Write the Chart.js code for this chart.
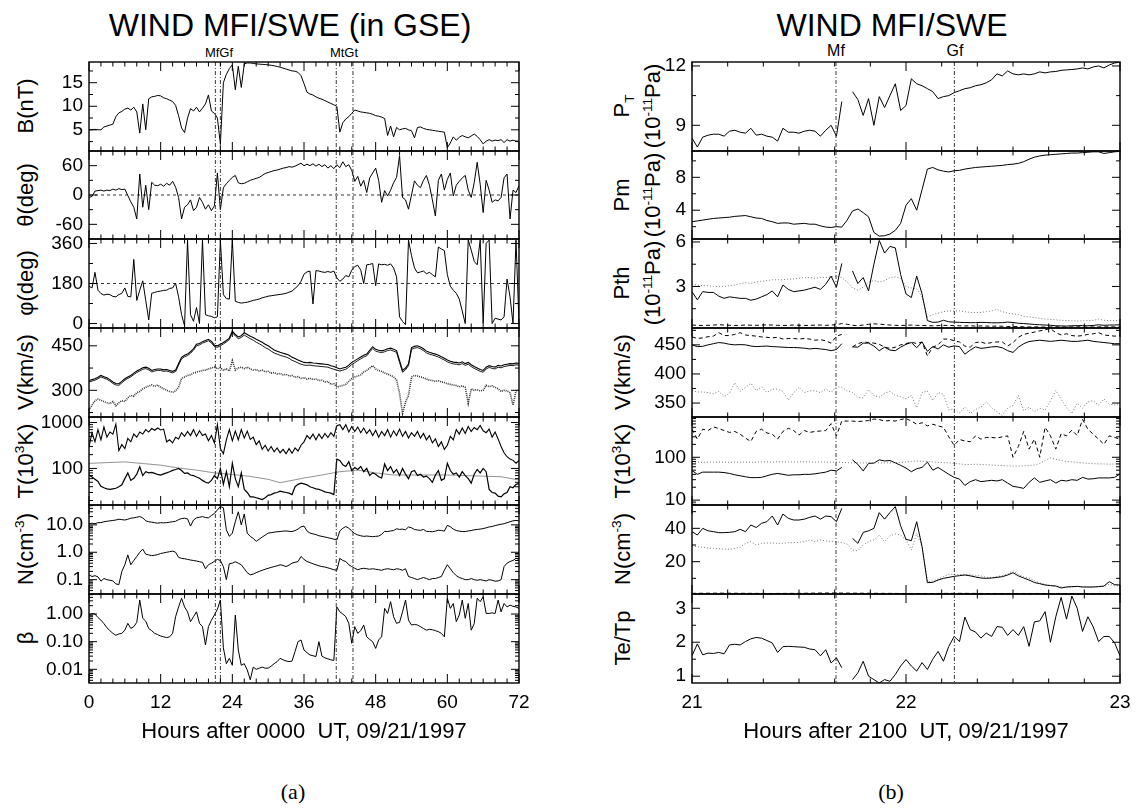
<!DOCTYPE html>
<html><head><meta charset="utf-8">
<script src="https://cdn.jsdelivr.net/npm/chart.js@4.4.1/dist/chart.umd.min.js"></script>
<style>
html,body{margin:0;padding:0;background:#fff;}
body{width:1136px;height:808px;overflow:hidden;position:relative;font-family:'Liberation Sans',Arial,Helvetica,sans-serif;color:#000;}
.t{position:absolute;transform:translate(-50%,-50%);white-space:nowrap;line-height:1;}
.yl{position:absolute;transform:translate(-50%,-50%) rotate(-90deg);white-space:nowrap;text-align:center;font-size:22px;line-height:31px;}
.yl sub,.yl sup{font-size:62%;line-height:0;}
canvas{position:absolute;}
</style></head><body>
<div class="t" style="left:290px;top:25px;font-size:32px;">WIND MFI/SWE (in GSE)</div>
<div class="t" style="left:892px;top:25px;font-size:32px;">WIND MFI/SWE</div>
<div class="t" style="left:219px;top:52px;font-size:13px;">MfGf</div>
<div class="t" style="left:344px;top:52px;font-size:13px;">MtGt</div>
<div class="t" style="left:836px;top:51px;font-size:16px;">Mf</div>
<div class="t" style="left:955px;top:51px;font-size:16px;">Gf</div>
<div class="t" style="left:293px;top:792px;font-size:22px;font-family:'Liberation Serif','DejaVu Serif',serif;">(a)</div>
<div class="t" style="left:891px;top:792px;font-size:22px;font-family:'Liberation Serif','DejaVu Serif',serif;">(b)</div>

<div class="yl" style="left:25px;top:106px;">B(nT)</div>
<div class="yl" style="left:25px;top:195px;">θ(deg)</div>
<div class="yl" style="left:25px;top:283px;">φ(deg)</div>
<div class="yl" style="left:25px;top:372px;">V(km/s)</div>
<div class="yl" style="left:25px;top:461px;">T(10<sup>3</sup>K)</div>
<div class="yl" style="left:25px;top:549px;">N(cm<sup>-3</sup>)</div>
<div class="yl" style="left:25px;top:638px;">β</div>

<div class="yl" style="left:637px;top:106px;">P<sub>T</sub><br>(10<sup>-11</sup>Pa)</div>
<div class="yl" style="left:637px;top:195px;">Pm<br>(10<sup>-11</sup>Pa)</div>
<div class="yl" style="left:637px;top:283px;">Pth<br>(10<sup>-11</sup>Pa)</div>
<div class="yl" style="left:622px;top:372px;">V(km/s)</div>
<div class="yl" style="left:622px;top:461px;">T(10<sup>3</sup>K)</div>
<div class="yl" style="left:622px;top:549px;">N(cm<sup>-3</sup>)</div>
<div class="yl" style="left:622px;top:638px;">Te/Tp</div>

<script>
// ---------------- sampling grids ----------------
const LEFT_T0 = 0, LEFT_DT = 0.5;      // hours, 145 samples
const RIGHT_T0 = 21, RIGHT_DT = 0.025; // hours, 81 samples

// ---------------- axis ticks ----------------
const LEFT_X_MAJOR = [0, 12, 24, 36, 48, 60, 72];
const LEFT_X_LABELS = ['0', '12', '24', '36', '48', '60', '72'];
const LEFT_X_MINOR = [2,4,6,8,10,14,16,18,20,22,26,28,30,32,34,38,40,42,44,46,50,52,54,56,58,62,64,66,68,70];
const RIGHT_X_MAJOR = [21, 22, 23];
const RIGHT_X_LABELS = ['21', '22', '23'];
const RIGHT_X_MINOR = [21.1667,21.3333,21.5,21.6667,21.8333,22.1667,22.3333,22.5,22.6667,22.8333];
const LEFT_EVENTS = [21.16, 22.0, 41.4, 44.2];
const RIGHT_EVENTS = [21.673, 22.226];

// ---------------- left column data (0.5 h samples) ----------------
const B_nT = [5.0,5.0,5.1,5.0,5.0,5.6,5.8,6.0,6.2,7.8, 8.6,8.9,9.4,9.6,9.2,9.8,8.8,4.3,10.5,5.0,
 11.6,12.0,12.1,12.3,12.2,11.8,11.6,11.3,11.0,10.2, 8.0,5.4,4.4,7.5,9.5,9.0,9.8,8.8,9.6,10.5,
 12.4,9.0,8.5,7.5,2.0,15.0,16.8,18.0,18.8,13.5, 18.5,14.0,19.0,19.2,19.2,19.1,19.0,18.95,18.9,18.85,
 18.8,18.7,18.6,18.45,18.3,18.1,17.9,17.7,17.5,17.45, 17.2,16.5,14.8,13.0,12.6,12.4,12.0,11.7,11.5,11.2,
 10.9,10.6,10.3,10.0,4.5,6.5,7.3,7.8,8.5,9.2, 9.0,8.8,8.7,8.6,8.5,8.3,8.0,7.9,7.7,7.4,
 3.8,5.8,3.5,5.5,5.0,5.2,5.3,5.0,4.8,3.3, 5.5,5.6,5.3,5.1,5.0,4.9,4.8,4.7,4.6,4.5,
 1.2,2.2,3.5,2.8,3.4,3.8,3.5,3.3,3.7,4.1, 3.6,2.9,2.0,2.6,2.9,2.6,2.8,2.7,2.9,2.3,
 2.9,2.6,2.8,2.6,2.6];
const THETA_deg = [-5,-3,8,9,10,8,10,9,12,10, 13,11,12,-1,-14,-25,-49,43,-25,20,
 -30,26,20,19,22,18,24,20,28,16, -5,-49,-25,-20,-10,-32,-25,-5,-15,-29,
 -20,-32,-22,45,-30,15,23,30,36,40, 25,23,24,27,30,32,34,36,40,44,
 46,48,50,51,53,55,56,58,57,59, 62,65,60,63,60,64,59,63,58,62,
 55,60,54,62,56,68,58,62,50,28, 38,18,30,5,35,45,55,30,-15,9,
 -2,10,25,36,80,-5,-10,-29,0,29, 20,15,30,40,20,-10,-43,30,43,10,
 32,45,-2,20,28,35,40,10,-5,25, 67,22,-36,30,10,-15,-10,-12,-5,35,
 43,-49,10,5,19];
const PHI_deg = [168,160,230,150,135,128,132,130,122,120, 130,136,160,122,120,288,104,150,192,104,
 16,136,140,144,146,149,150,158,160,181, 120,40,-10,375,40,10,72,0,375,40,
 35,32,26,30,375,130,112,110,375,100, 95,92,94,96,100,104,107,110,116,119,
 123,125,127,129,131,133,136,141,146,158, 170,190,222,232,236,88,238,236,232,230,
 234,230,236,205,190,200,216,210,240,256, 262,240,180,264,266,270,170,268,264,266,
 262,268,250,210,30,10,-5,375,305,250, 228,232,236,224,230,220,210,344,335,328,
 220,168,150,136,110,56,0,375,330,280, 264,375,0,360,375,0,24,20,16,30,
 200,120,0,375,0];
const V_a = [333,336,339,344,350,346,342,336,328,323, 322,330,339,345,350,358,365,370,376,378,
 374,367,370,372,372,369,370,367,364,368, 390,411,418,422,430,440,455,458,464,468,
 472,465,452,450,455,461,468,476,500,488, 480,484,494,488,482,478,472,467,462,455,
 450,443,436,432,428,425,422,418,411,407, 402,398,394,393,394,392,391,390,389,388,
 387,383,380,376,372,375,378,385,394,400, 406,412,418,422,435,447,438,435,433,436,
 440,442,438,434,400,367,375,389,444,448, 450,446,440,432,428,425,422,418,413,408,
 402,398,395,394,392,396,390,394,386,380, 375,370,367,378,383,380,378,384,382,386,
 388,390,389,392,391];
const V_b = [328,331,334,339,345,341,337,331,323,318, 317,325,334,340,345,353,360,365,371,373,
 369,362,365,367,367,364,365,362,359,363, 385,406,413,417,425,435,450,453,459,463,
 467,460,447,445,450,456,463,471,495,483, 474,478,486,480,474,469,462,457,451,444,
 439,432,426,422,418,415,412,408,401,397, 392,388,385,384,385,383,382,381,380,379,
 378,374,371,368,365,368,371,378,387,393, 400,406,412,416,429,441,432,429,427,430,
 434,436,432,428,394,361,369,383,438,442, 444,440,434,426,422,419,416,412,407,402,
 396,392,389,388,386,390,384,388,380,374, 369,364,361,372,377,374,372,378,376,380,
 382,384,383,386,385];
const V_c = [233,250,265,270,266,262,258,255,262,248, 258,265,262,275,283,280,292,296,305,310,
 314,318,313,318,310,305,300,296,293,298, 310,340,345,350,352,358,361,364,367,368,
 372,375,378,372,376,368,372,365,400,368, 375,378,373,378,372,368,370,365,368,362,
 364,358,360,355,357,352,354,348,350,344, 346,340,343,338,341,336,338,333,334,328,
 330,320,322,310,314,316,320,330,340,345, 348,352,362,367,375,383,372,366,364,358,
 355,350,345,335,290,222,260,283,345,350, 348,345,342,338,334,333,330,332,328,326,
 322,320,318,316,312,315,310,256,305,300, 302,298,300,317,312,315,310,305,296,300,
 298,292,250,298,300];
const T_hi = [290,600,380,700,420,800,480,620,560,920, 245,330,270,450,380,560,480,620,560,700,
 620,740,680,760,690,720,380,420,360,480, 440,600,500,640,520,700,500,660,520,560,
 400,520,360,900,270,210,420,700,400,650, 420,700,460,650,430,480,330,400,260,320,
 240,300,230,280,220,260,210,270,215,280, 240,320,380,520,440,560,420,560,450,580,
 470,600,500,850,900,700,900,620,820,640, 800,600,760,580,700,520,680,480,640,520,
 700,480,660,520,720,500,640,460,600,500, 640,460,580,420,520,360,440,300,380,260,
 320,500,420,700,560,760,580,820,640,780, 700,860,660,600,720,480,620,440,300,220,
 180,160,150,130,150];
const T_lo = [72,65,58,52,41,38,36,35,36,37, 40,44,60,80,55,61,75,109,70,85,
 80,82,78,74,72,76,80,85,91,95, 100,90,78,80,72,70,65,61,55,50,
 48,55,70,60,100,45,85,40,130,60, 40,80,35,30,24,24,23,22,21,23,
 26,27,29,30,32,31,30,29,27,40, 45,48,46,44,40,38,36,35,33,31,
 30,29,27,160,150,120,110,140,90,105, 95,110,85,100,70,80,75,66,62,125,
 90,110,80,95,70,100,75,60,85,90, 70,75,65,68,60,50,72,90,55,60,
 130,90,75,80,65,85,70,60,48,75, 95,80,100,85,35,30,29,25,24,28,
 30,40,38,45,47];
const T_SMOOTH_H = [0,3,6,9,12,15,18,21,24,27,30,32,34,36,39,42,45,48,51,54,57,60,63,66,69,72];
const T_SMOOTH_V = [129,134,139,128,118,102,92,80,74,67,58,49,55,62,72,85,92,80,72,72,72,72,70,68,66,56];
const N_hi = [11,11.5,11,12,12,13,13.5,14,14.5,15, 16,15.5,15,16,17.5,18,19,20,18,14,
 13,12.5,12,11.5,12,11.8,12,12.5,13,13.5, 15.5,17,17.5,16.5,9,15,18,19,20,18.5,
 18,22,26,35,47,42,6.6,3.8,5,13, 30,10,25,5,3.8,3.2,2.5,3,3.6,4.2,
 5,5.2,5.4,5.6,5.7,5.9,6.0,5.8,5.7,6.2, 7,8.5,9,6,5,4.7,4.4,4.0,3.8,3.6,
 3.4,3.2,3.0,2.8,6,7.5,8.7,7.5,6,4.8, 4.3,4.0,3.8,3.9,3.8,3.7,3.8,3.9,4.5,5.8,
 5.7,6.0,6.2,7.2,6.8,7.0,6.6,8.4,7.8,6.8, 6.5,6.3,6.8,5.8,5.7,5.6,5.9,6.4,6.2,5.9,
 9.6,8.5,7,6.2,5.9,5.7,5.7,6.0,6.2,6.6, 6.8,7.0,7.3,7.8,8.4,8.7,9.4,10,10.5,11,
 12,13,14,14.5,14];
const N_lo = [0.15,0.13,0.14,0.126,0.088,0.11,0.1,0.095,0.09,0.07, 0.066,0.2,0.35,0.8,0.35,0.5,0.7,1.0,1.3,0.85,
 0.8,0.75,0.78,0.82,0.9,0.95,1.0,1.05,1.1,1.0, 0.65,0.6,0.58,0.55,0.52,0.5,0.48,0.45,0.43,0.25,
 0.35,0.4,0.47,0.55,0.5,0.3,0.1,0.38,0.4,0.45, 0.4,0.35,0.25,0.18,0.15,0.16,0.18,0.2,0.22,0.24,
 0.26,0.28,0.3,0.32,0.35,0.33,0.3,0.34,0.4,0.43, 0.46,0.7,0.55,0.46,0.42,0.38,0.35,0.32,0.3,0.29,
 0.27,0.25,0.23,0.22,0.6,0.5,0.46,0.35,0.3,0.26, 0.23,0.25,0.26,0.25,0.24,0.25,0.24,0.23,0.22,0.24,
 0.25,0.24,0.23,0.25,0.24,0.22,0.25,0.13,0.12,0.11, 0.1,0.11,0.12,0.11,0.1,0.11,0.11,0.12,0.13,0.22,
 0.35,0.25,0.18,0.14,0.12,0.11,0.1,0.1,0.11,0.1, 0.095,0.1,0.095,0.09,0.1,0.095,0.088,0.09,0.1,0.3,
 0.4,0.46,0.5,0.6,0.55];
const BETA = [0.92,1.05,1.0,0.75,0.6,0.45,0.32,0.25,0.2,0.17, 0.19,0.2,0.26,0.46,0.3,0.35,0.5,3.2,0.7,0.55,
 0.3,0.25,0.2,0.18,0.16,0.15,0.14,0.15,0.2,0.8, 1.8,3.7,1.8,1.2,0.53,0.8,1.2,0.46,0.35,0.076,
 0.35,0.6,0.92,1.5,3.2,0.06,0.016,0.025,0.014,0.92, 0.05,0.014,0.016,0.0095,0.0042,0.012,0.01,0.011,0.012,0.011,
 0.011,0.013,0.016,0.019,0.025,0.022,0.02,0.019,0.02,0.044, 0.1,0.115,0.05,0.04,0.033,0.031,0.029,0.1,0.03,0.026,
 0.024,0.022,0.021,1.8,1.2,1.0,0.8,0.46,0.087,0.35, 0.2,0.25,0.4,0.15,0.12,0.1,0.057,0.115,0.15,1.6,
 1.05,2.8,0.8,0.46,0.5,1.2,3.2,0.6,0.4,0.42, 0.4,0.35,0.3,0.26,0.28,0.27,0.25,0.23,0.2,0.15,
 3.7,1.6,2.4,0.53,0.92,3.2,0.7,2.4,0.26,0.45, 3.7,2.8,4.2,1.05,1.05,1.1,1.05,3.2,1.2,2.4,
 1.8,2.1,1.9,1.8,1.6];

// ---------------- right column data (1.5 min samples) ----------------
const PT = [8.35,7.9,8.4,8.5,8.55,8.55,8.45,8.7,8.75,8.65, 8.6,8.85,8.5,8.55,8.45,8.4,8.2,8.85,8.65,8.65,
 8.6,8.7,8.75,8.7,8.45,8.75,9.0,8.45,10.2,null, 10.7,10.3,9.5,10.35,9.0,10.45,9.9,10.5,11.1,9.75,
 10.0,11.35,11.1,11.0,10.85,10.7,10.35,10.45,10.5,10.65, 10.75,10.85,10.9,11.0,11.05,11.15,11.3,11.6,11.5,11.75,
 11.6,11.55,11.6,11.55,11.6,11.7,11.65,11.7,11.72,11.78, 11.8,11.82,11.85,11.9,11.85,11.95,12.0,11.9,12.05,12.15,
 12.2];
const PM = [2.6,2.7,2.8,2.9,3.0,3.05,3.1,3.15,3.25,3.3, 3.35,3.2,3.05,3.0,2.75,2.6,2.4,2.45,2.45,2.3,
 2.35,2.4,2.3,2.3,2.1,1.95,1.9,2.0,1.95,2.8, 3.9,4.15,3.7,3.2,1.3,0.85,0.9,1.1,1.55,2.4,
 4.6,5.4,4.0,6.5,9.0,9.2,8.9,8.75,8.65,8.8, 8.85,9.0,9.1,9.2,9.25,9.3,9.35,9.4,9.45,9.55,
 9.6,9.7,9.9,10.2,10.45,10.6,10.7,10.75,10.8,10.85, 10.9,10.95,10.95,11.0,11.05,11.1,11.1,10.9,11.0,11.1,
 11.15];
const PTH_a = [2.65,2.1,2.65,2.6,2.6,2.35,2.2,2.3,2.25,2.2, 2.2,2.07,2.15,2.3,2.45,2.7,2.3,3.1,2.8,2.65,
 2.7,2.75,2.85,2.95,2.8,3.15,3.7,2.95,4.55,null, 4.05,3.2,3.6,2.7,4.5,6.1,5.25,5.7,5.6,3.8,
 2.5,2.25,3.7,2.5,0.7,0.58,0.6,0.72,0.62,0.6, 0.58,0.57,0.56,0.56,0.58,0.57,0.55,0.55,0.56,0.6,
 0.57,0.52,0.5,0.47,0.44,0.42,0.4,0.38,0.35,0.34, 0.33,0.35,0.36,0.36,0.35,0.37,0.42,0.38,0.4,0.4,
 0.42];
const PTH_b = [3.15,3.1,3.05,3.05,3.0,3.0,3.0,3.05,3.1,3.2, 3.25,3.2,3.3,3.35,3.4,3.45,3.45,3.45,3.5,3.5,
 3.55,3.6,3.6,3.55,3.6,3.6,3.65,3.7,3.6,3.3, 2.9,2.75,2.95,3.3,3.4,3.3,3.4,3.6,3.65,3.55,
 3.0,2.9,2.85,2.3,0.95,1.1,1.2,1.3,1.35,1.35, 1.35,1.3,1.25,1.25,1.25,1.3,1.35,1.45,1.3,1.2,
 1.15,1.1,1.0,0.95,0.9,0.85,0.8,0.78,0.75,0.72, 0.7,0.68,0.68,0.68,0.7,0.72,0.8,0.72,0.7,0.7,
 0.72];
const PTH_c = [0.4,0.38,0.37,0.38,0.4,0.42,0.4,0.38,0.37,0.38, 0.4,0.39,0.38,0.4,0.41,0.4,0.38,0.37,0.38,0.4,
 0.38,0.37,0.38,0.39,0.4,0.38,0.4,0.42,0.5,0.45, 0.38,0.36,0.4,0.45,0.48,0.46,0.43,0.4,0.38,0.37,
 0.38,0.4,0.38,0.37,0.36,0.35,0.36,0.38,0.37,0.36, 0.35,0.34,0.35,0.33,0.34,0.33,0.32,0.33,0.32,0.3,
 0.29,0.3,0.28,0.27,0.28,0.27,0.26,0.27,0.28,0.27, 0.26,0.27,0.28,0.27,0.26,0.27,0.28,0.27,0.28,0.27,
 0.27];
const VR_a = [450,447,447.5,450,452,454,453,451,450,450.5, 450,448,447,447.5,448,447,446.6,446,445.5,445.5,
 445,444.3,443,444,443,442,440,442,452,null, 446.6,446,453,453,448,440,446,441,440,446,
 451,454,445,455,439,447,443,450,446,448.3, 447,434,441,446.6,444,445,446.6,447,445,440,
 437,446,452,455.7,457,458,457,456,457,458, 457,456,456,457,458,456,455,454,453,452,
 452];
const VR_b = [463.6,461,462,464,465,471,466,466,468,471, 467,466,465,463.6,463,462,463,460,461,461,
 460,461,460,458,459,457,453,465,468,null, 446.6,452,455,454,453,451,446,444,446,450,
 452,455,452,455,431,446,450,460,460,457, 455,448,446,454,455,452,454,455,455,448,
 454,463,468,470,472,474,476,478,471,467, 469,466,465,466,468,469,471,467,466,465,
 466];
const VR_c = [371.6,369,369,368,366,370,361,367,385,370, 377,384,371,378,368,374,374,370,355,368,
 377,368,371,371,368,374,368,378,377,371, 368,360,359,373,363,360,367,370,363,361,
 357,363,342,368,370.5,354.5,368,365,338,340, 333,343,332,339,343,352,342,335,329,341,
 346,363,337,343,335,341,338,354,371.6,357, 342,332,350,341,352,354,346,357,348,347,
 349];
const TR_a = [451,265,451,420,510,470,420,380,400,345, 280,234,400,451,370,345,265,400,476,420,
 330,420,380,400,410,420,609,316,700,700, 700,680,700,720,780,760,700,720,700,760,
 800,700,590,640,540,590,540,500,300,190, 260,240,230,316,265,290,290,280,300,316,
 100,178,400,155,265,100,500,316,155,355, 316,430,320,760,450,345,265,200,316,290,
 265];
const TR_b = [77,77,76,77,77,77,77,76,77,77, 77,76,77,78,78,77,78,78,78,77,
 78,78,78,77,78,77,77,77,76,75, 74,74,74,74,75,74,74,74,75,76,
 78,80,82,81,80,78,76,75,74,72, 70,68,68,69,68,67,66,65,64,63,
 62,62,63,64,66,72,85,96,90,84, 80,78,76,74,72,71,70,70,69,70,
 70];
const TR_c = [49,40,45,45,45,45,44,42,39,37, 35,33.5,33.5,34,37,40,42,40,38,39,
 39,40,40,41,43,45,50,48,58,null, 87,68,48,72,73,87,82,84,74,65,
 56,46,54,58,77,50,58,48,40,34, 31,22,27,30,27,28,29,28,30,25,
 21,20,18.8,26,33,26,28,30,25,29, 28,30,29,34,31,31.5,33,33,33,34,
 41];
const NR_a = [38,36,40,38.5,38,37.4,37.4,37.6,38,39.4, 38,42,40.5,43,44,47.4,42,48.6,46,45,
 45,45.5,46.6,47.4,45.5,47.4,47,44,52,null, 34,31,37.6,38.5,40,49.4,45.5,49.5,53,41.5,
 33.4,32.6,44,29,7.4,7.6,9,10,10.6,11.2, 11.6,12,11.5,10.8,10.2,10,10.2,10.6,11,12,
 13.4,11.5,10.2,9,7.5,6.8,6,5.6,5.4,4.2, 4.8,5,5.2,4.8,4.8,4.8,5,5.4,8,6.2,
 6];
const NR_b = [29.4,29,28.6,28.2,28,27.8,27.6,27.4,28,28.6, 31,32,30,31,31.2,31.2,31,31,31.4,31.4,
 31.6,32,33,32,33,32.5,32,32,31.4,30.6, 27,26.5,30,32,33,36,32,35.5,36.6,36,
 33,27,37,29,8,8.4,9.6,11,12.4,12.4, 12.2,12.4,12,11.8,11.4,10.6,10.4,11,11.6,12.6,
 14.6,12.4,11,10.2,8.6,7.2,6.4,5.8,5.4,5.0, 4.6,4.8,5,5,4.8,4.8,5,5,6.4,5.6,
 5.6];
const NR_c_DT = 0.125;
const NR_c = [1.0,1.1,1.0,0.9,1.0,1.2,1.1,1.0,0.9,0.9,1.0,0.9,0.8,0.8,0.9,0.8,0.8];
const TETP = [1.6,1.95,1.63,1.68,1.67,1.7,1.66,1.92,1.94,1.92, 2.02,2.1,2.14,2.12,2.05,1.98,1.7,1.87,1.88,1.87,
 1.86,1.85,1.8,1.78,1.6,1.78,1.39,1.54,1.25,null, 0.9,1.1,1.44,1.0,0.9,0.8,0.9,0.85,1.05,1.3,
 1.49,1.3,1.15,1.4,1.2,1.5,1.73,1.44,1.88,2.17, 2.02,2.74,2.37,2.3,2.12,2.27,2.17,2.46,2.44,2.2,
 2.37,2.2,2.46,1.88,2.6,2.63,2.9,2.0,2.75,3.32, 2.68,3.36,3.0,2.32,2.75,2.45,2.02,2.17,2.17,1.98,
 1.6];

// ---------------- helpers ----------------
function series(t0, dt, vals) { return vals.map((v, i) => ({x: t0 + i * dt, y: v})); }
function pairs(xs, ys) { return xs.map((x, i) => ({x: x, y: ys[i]})); }
function decades(lo, hi) { const out = []; for (let d = lo; d <= hi; d *= 10) for (let m = 2; m <= 9; m++) out.push(m * d); return out; }
const L = (d) => series(LEFT_T0, LEFT_DT, d);
const R = (d) => series(RIGHT_T0, RIGHT_DT, d);
const SOLID = {color: '#000', dash: [], width: 1};
const DOT = {color: '#777', dash: [1, 2], width: 1};
const DASH = {color: '#000', dash: [4, 3], width: 1};

Chart.defaults.font.family = "'Liberation Sans', Arial, Helvetica, sans-serif";
Chart.defaults.color = '#000';

const PANEL_TOPS = [62, 151, 239, 328, 417, 505, 594, 683];
const PAD = 20, XB = 66;

const framePlugin = {
  id: 'frame',
  afterDraw(chart, args, o) {
    const {ctx, chartArea: a, scales: {x, y}} = chart;
    ctx.save();
    ctx.strokeStyle = '#000';
    const seg = (x1, y1, x2, y2) => { ctx.beginPath(); ctx.moveTo(x1, y1); ctx.lineTo(x2, y2); ctx.stroke(); };
    ctx.lineWidth = 0.8; ctx.setLineDash([3, 3]);
    (o.hlines || []).forEach(v => { const p = y.getPixelForValue(v); seg(a.left, p, a.right, p); });
    ctx.lineWidth = 0.9; ctx.setLineDash([4, 2, 1, 2]); ctx.strokeStyle = '#222';
    (o.vlines || []).forEach(v => { const p = x.getPixelForValue(v); seg(p, a.top, p, a.bottom); });
    ctx.setLineDash([]); ctx.strokeStyle = '#000'; ctx.lineWidth = 1;
    o.xMajor.forEach(v => { const p = x.getPixelForValue(v); seg(p, a.top, p, a.top + 9); seg(p, a.bottom, p, a.bottom - 9); });
    o.xMinor.forEach(v => { const p = x.getPixelForValue(v); seg(p, a.top, p, a.top + 4.5); seg(p, a.bottom, p, a.bottom - 4.5); });
    o.yMajor.forEach(v => { const p = y.getPixelForValue(v); seg(a.left, p, a.left + 8, p); seg(a.right, p, a.right - 8, p); });
    (o.yMinor || []).forEach(v => { if (v <= y.min || v >= y.max) return; const p = y.getPixelForValue(v); seg(a.left, p, a.left + 4, p); seg(a.right, p, a.right - 4, p); });
    ctx.lineWidth = 1.4;
    ctx.strokeRect(a.left, a.top, a.right - a.left, a.bottom - a.top);
    ctx.restore();
  }
};

const COLS = {
  left: {plotL: 89, plotW: 430, LM: 80, xMin: 0, xMax: 72, xMajor: LEFT_X_MAJOR, xLabels: LEFT_X_LABELS, xMinor: LEFT_X_MINOR,
         vlines: LEFT_EVENTS, xTitle: 'Hours after 0000  UT, 09/21/1997'},
  right: {plotL: 692, plotW: 428, LM: 72, xMin: 21, xMax: 23, xMajor: RIGHT_X_MAJOR, xLabels: RIGHT_X_LABELS, xMinor: RIGHT_X_MINOR,
         vlines: RIGHT_EVENTS, xTitle: 'Hours after 2100  UT, 09/21/1997'}
};

const LEFT_PANELS = [
  {min: 0.5, max: 19.4, major: [5, 10, 15], labels: ['5', '10', '15'], minor: [2.5, 7.5, 12.5, 17.5], ds: [[L(B_nT), SOLID]]},
  {min: -90, max: 90, major: [-60, 0, 60], labels: ['-60', '0', '60'], minor: [-30, 30], hlines: [0], ds: [[L(THETA_deg), SOLID]]},
  {min: -20, max: 380, major: [0, 180, 360], labels: ['0', '180', '360'], minor: [90, 270], hlines: [180], ds: [[L(PHI_deg), SOLID]]},
  {min: 210, max: 510, major: [300, 450], labels: ['300', '450'], minor: [225, 375], ds: [[L(V_a), {color: '#000', dash: [], width: 1.1}], [L(V_b), {color: '#000', dash: [], width: 0.9}], [L(V_c), {color: '#333', dash: [1, 1], width: 1.6}]]},
  {log: true, min: 16, max: 1320, major: [100, 1000], labels: ['100', '1000'], minor: decades(10, 100), ds: [[L(T_hi), {color: '#000', dash: [], width: 1.1}], [L(T_lo), {color: '#000', dash: [], width: 1.2}], [pairs(T_SMOOTH_H, T_SMOOTH_V), {color: '#777', dash: [], width: 0.8}]]},
  {log: true, min: 0.03, max: 53, major: [0.1, 1, 10], labels: ['0.1', '1.0', '10.0'], minor: decades(0.01, 10), ds: [[L(N_hi), SOLID], [L(N_lo), SOLID]]},
  {log: true, min: 0.0032, max: 5.3, major: [0.01, 0.1, 1], labels: ['0.01', '0.10', '1.00'], minor: decades(0.001, 1), ds: [[L(BETA), SOLID]]}
];
const RIGHT_PANELS = [
  {min: 7.7, max: 12.2, major: [9, 12], labels: ['9', '12'], minor: [10.5], ds: [[R(PT), SOLID]]},
  {min: 0.5, max: 11.2, major: [4, 8], labels: ['4', '8'], minor: [2, 6, 10], ds: [[R(PM), SOLID]]},
  {min: 0.2, max: 6.2, major: [3, 6], labels: ['3', '6'], minor: [1.5, 4.5], ds: [[R(PTH_a), SOLID], [R(PTH_b), DOT], [R(PTH_c), DASH]]},
  {min: 326, max: 479, major: [350, 400, 450], labels: ['350', '400', '450'], minor: [375, 425, 475], ds: [[R(VR_a), SOLID], [R(VR_b), DASH], [R(VR_c), DOT]]},
  {log: true, min: 7.7, max: 870, major: [10, 100], labels: ['10', '100'], minor: decades(1, 100), ds: [[R(TR_a), DASH], [R(TR_b), DOT], [R(TR_c), SOLID]]},
  {min: 0.6, max: 54, major: [20, 40], labels: ['20', '40'], minor: [10, 30, 50], ds: [[R(NR_a), SOLID], [R(NR_b), DOT], [series(RIGHT_T0, NR_c_DT, NR_c), DASH]]},
  {min: 0.8, max: 3.42, major: [1, 2, 3], labels: ['1', '2', '3'], minor: [1.5, 2.5], ds: [[R(TETP), SOLID]]}
];

function makePanel(col, k, p) {
  const top = PANEL_TOPS[k], h = PANEL_TOPS[k + 1] - top;
  const isBottom = k === 6;
  const cw = col.LM + col.plotW + PAD;
  const ch = PAD + h + (isBottom ? XB : PAD);
  const cv = document.createElement('canvas');
  cv.width = cw; cv.height = ch;
  cv.style.left = (col.plotL - col.LM) + 'px';
  cv.style.top = (top - PAD) + 'px';
  cv.style.width = cw + 'px'; cv.style.height = ch + 'px';
  document.body.appendChild(cv);
  new Chart(cv, {
    type: 'line',
    data: {datasets: p.ds.map(([d, s]) => ({data: d, borderColor: s.color, borderWidth: s.width, borderDash: s.dash,
      pointRadius: 0, tension: 0, fill: false, spanGaps: false}))},
    options: {
      responsive: false, animation: false, events: [], devicePixelRatio: 1,
      layout: {padding: {left: 0, right: PAD, top: PAD, bottom: isBottom ? 0 : PAD}},
      plugins: {legend: {display: false}, tooltip: {enabled: false},
        frame: {xMajor: col.xMajor, xMinor: col.xMinor, yMajor: p.major, yMinor: p.minor, hlines: p.hlines, vlines: col.vlines}},
      scales: {
        x: {type: 'linear', min: col.xMin, max: col.xMax, display: isBottom,
          grid: {display: false, drawTicks: false}, border: {display: false},
          afterBuildTicks: s => { s.ticks = col.xMajor.map(v => ({value: v})); },
          afterFit: s => { s.height = isBottom ? XB : 0; },
          ticks: {autoSkip: false, maxRotation: 0, padding: 8, color: '#000', font: {size: 19}, callback: (v, i) => col.xLabels[i]},
          title: {display: true, text: col.xTitle, color: '#000', font: {size: 22}, padding: {top: 0, bottom: 3.8}}},
        y: {type: p.log ? 'logarithmic' : 'linear', min: p.min, max: p.max,
          grid: {display: false, drawTicks: false}, border: {display: false},
          afterBuildTicks: s => { s.ticks = p.major.map(v => ({value: v})); },
          afterFit: s => { s.width = col.LM; },
          ticks: {autoSkip: false, padding: 6, color: '#000', font: {size: 19}, callback: (v, i) => p.labels[i]}}
      }
    },
    plugins: [framePlugin]
  });
}

LEFT_PANELS.forEach((p, k) => makePanel(COLS.left, k, p));
RIGHT_PANELS.forEach((p, k) => makePanel(COLS.right, k, p));
</script>
</body></html>
